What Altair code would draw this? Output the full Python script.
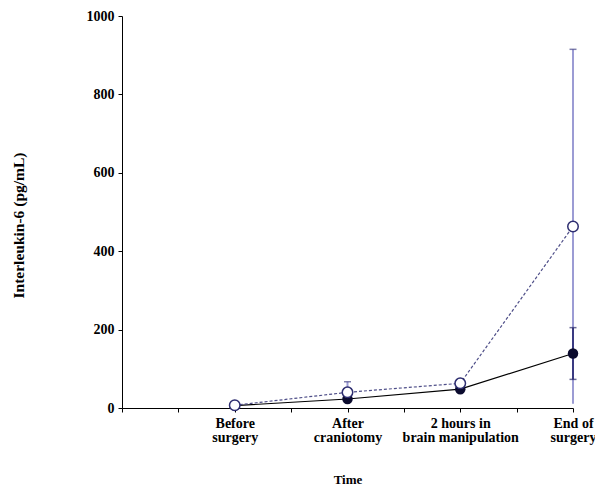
import altair as alt
import pandas as pd

# Sampling times (drawn at every other unit of the time axis)
times = ["Before surgery", "After craniotomy", "2 hours in brain manipulation", "End of surgery"]
time_labels = [["Before", "surgery"], ["After", "craniotomy"], ["2 hours in", "brain manipulation"], ["End of", "surgery"]]

# Interleukin-6 (pg/mL), mean and SD per group
open_mean = [7, 40, 63, 463]
open_sd = [0, 27, 0, 452]
filled_mean = [6, 23, 48, 139]
filled_sd = [0, 0, 0, 66]

rows = []
for i, t in enumerate(times):
    pos = 2 * (i + 1)
    rows.append({"time": t, "pos": pos, "group": "open", "mean": open_mean[i],
                 "lo": open_mean[i] - open_sd[i], "hi": open_mean[i] + open_sd[i]})
    rows.append({"time": t, "pos": pos, "group": "filled", "mean": filled_mean[i],
                 "lo": filled_mean[i] - filled_sd[i], "hi": filled_mean[i] + filled_sd[i]})
df = pd.DataFrame(rows)
open_df = df[df.group == "open"]
filled_df = df[df.group == "filled"]
open_err = open_df[open_df.hi > open_df["mean"]]
filled_err = filled_df[filled_df.hi > filled_df["mean"]]

label_expr = " : ".join(
    f"datum.value == {2 * (i + 1)} ? {lab!r}" for i, lab in enumerate(time_labels)
) + " : ''"

FONT = "Times New Roman, Liberation Serif, serif"

x = alt.X("pos:Q", scale=alt.Scale(domain=[0, 8], nice=False, zero=False),
          axis=alt.Axis(title="Time", values=list(range(0, 9)), labelExpr=label_expr,
                        grid=False, domain=True, domainColor="black", tickColor="black",
                        tickSize=4, labelPadding=4, labelBaseline="top", labelLineHeight=14,
                        labelFont=FONT, labelFontWeight="bold", labelFontSize=14,
                        labelColor="black", labelOverlap=False, labelFlush=False,
                        titleFont=FONT, titleFontWeight="bold", titleFontSize=13,
                        titleColor="black", titleX=225.5, titleY=71, titleBaseline="middle"))
y = alt.Y("mean:Q", scale=alt.Scale(domain=[0, 1000], nice=False),
          axis=alt.Axis(title="Interleukin-6 (pg/mL)", values=list(range(0, 1001, 100)),
                        labelExpr="datum.value % 200 == 0 ? datum.label : ''",
                        format="d", grid=False, domainColor="black", tickColor="black",
                        tickSize=4, labelPadding=4,
                        labelFont=FONT, labelFontWeight="bold", labelFontSize=14,
                        labelColor="black",
                        titleFont=FONT, titleFontWeight="bold", titleFontSize=15.5,
                        titleColor="black", titleX=-104, titleY=209, titleAngle=-90,
                        titleBaseline="middle"))

# Error bars
open_bar = alt.Chart(open_err).mark_rule(color="#9c9cd4", strokeWidth=2).encode(
    x="pos:Q", y="lo:Q", y2="hi:Q")
open_cap = alt.Chart(open_err).mark_tick(color="#4a4a8a", thickness=1.5, size=7, orient="horizontal").encode(
    x="pos:Q", y="hi:Q")
filled_bar = alt.Chart(filled_err).mark_rule(color="#3a3a82", strokeWidth=2).encode(
    x="pos:Q", y="lo:Q", y2="hi:Q")
filled_cap_hi = alt.Chart(filled_err).mark_tick(color="#2a2a6a", thickness=1.5, size=7, orient="horizontal").encode(
    x="pos:Q", y="hi:Q")
filled_cap_lo = alt.Chart(filled_err).mark_tick(color="#2a2a6a", thickness=1.5, size=7, orient="horizontal").encode(
    x="pos:Q", y="lo:Q")

filled_line = alt.Chart(filled_df).mark_line(color="black", strokeWidth=1.2).encode(x=x, y=y)
filled_pts = alt.Chart(filled_df).mark_point(shape="circle", filled=True, color="#0b0b2e",
                                             size=110, opacity=1).encode(x="pos:Q", y="mean:Q")
open_line = alt.Chart(open_df).mark_line(color="#4e4e88", strokeWidth=1.2,
                                         strokeDash=[3, 2]).encode(x="pos:Q", y="mean:Q")
open_pts = alt.Chart(open_df).mark_point(shape="circle", filled=True, fill="white",
                                         stroke="#2e2e70", strokeWidth=1.5, size=110,
                                         opacity=1).encode(x="pos:Q", y="mean:Q")

chart = alt.layer(
    filled_line, open_bar, filled_bar, open_cap, filled_cap_hi, filled_cap_lo,
    open_line, filled_pts, open_pts
).properties(
    width=451, height=392,
    autosize=alt.AutoSizeParams(type="none"),
    padding={"left": 122, "top": 16, "right": 22, "bottom": 78},
    background="white",
).configure_view(stroke=None)

chart.save("out.html", embed_options={"renderer": "svg", "actions": False})
